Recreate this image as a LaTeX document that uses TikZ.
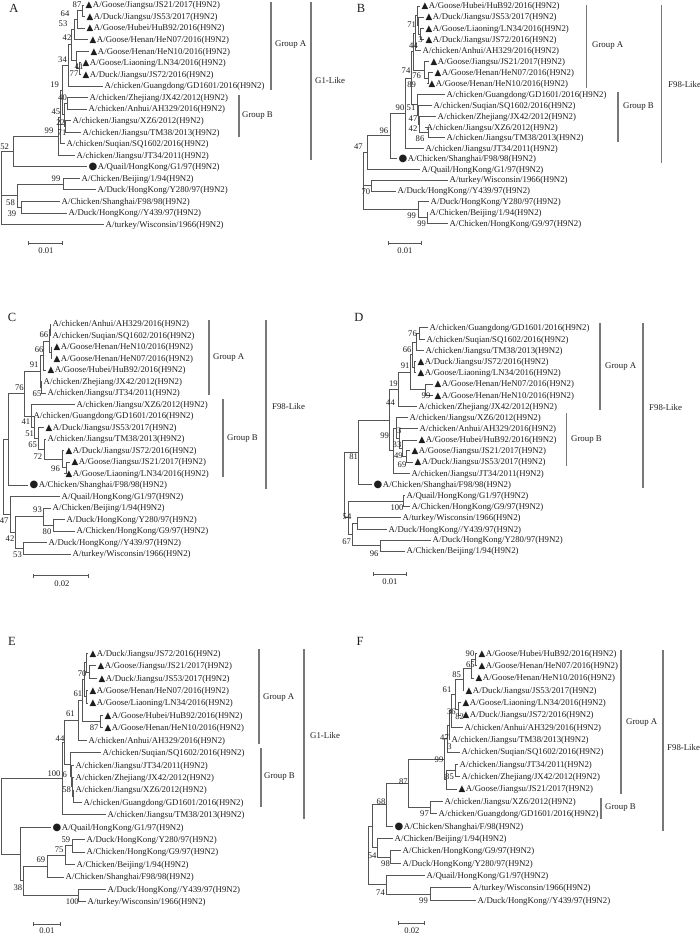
\documentclass[tikz,border=0pt]{standalone}
\usepackage{fontspec}
\setmainfont{Liberation Serif}
\newfontfamily\symf{DejaVu Sans}
\usetikzlibrary{arrows.meta}
\definecolor{treegray}{RGB}{85,85,85}
\definecolor{bargray}{RGB}{120,120,120}
\definecolor{inkgray}{RGB}{30,30,30}
\tikzset{
  branch/.style={draw=treegray, line width=0.7pt},
  leaf/.style={anchor=west, inner xsep=1.5pt, inner ysep=0pt, text height=6.4pt, text depth=0.6pt, font=\fontsize{8.8}{9}\selectfont, text=inkgray},
  boot/.style={inner sep=0pt, font=\fontsize{8.6}{9}\selectfont, text=inkgray},
  grp/.style={anchor=west, inner sep=0pt, font=\fontsize{8.8}{9}\selectfont, text=inkgray},
  cladebar/.style={draw=bargray, line width=1.2pt},
  panel/.style={inner sep=0pt, font=\fontsize{12.5}{13}\selectfont, text=inkgray},
  scalebar/.style={draw=treegray, line width=0.7pt, {Bar[width=4pt]}-{Bar[width=4pt]}},
}
\newcommand{\tri}{{\symf ▲}\hspace{0.5pt}}
\newcommand{\cir}{{\symf\fontsize{10}{10}\selectfont ●}\hspace{0.5pt}}
\newcommand{\br}[2]{\draw[branch] (#1) |- (#2);}

\begin{document}
\begin{tikzpicture}[x=1pt, y=-1pt]
\useasboundingbox (0,0) rectangle (700,934);

% ---------------- panel A ----------------
\node[panel] (pA) at (14,8) {A};
\node[leaf] (aJS21) at (84,5.0) {\tri A/Goose/Jiangsu/JS21/2017(H9N2)};
\node[leaf] (aJS53) at (85,16.6) {\tri A/Duck/Jiangsu/JS53/2017(H9N2)};
\node[leaf] (aHuB92) at (85,28.1) {\tri A/Goose/Hubei/HuB92/2016(H9N2)};
\node[leaf] (aHeN07) at (88,39.7) {\tri A/Goose/Henan/HeN07/2016(H9N2)};
\node[leaf] (aHeN10) at (89,51.2) {\tri A/Goose/Henan/HeN10/2016(H9N2)};
\node[leaf] (aLN34) at (81,62.8) {\tri A/Goose/Liaoning/LN34/2016(H9N2)};
\node[leaf] (aJS72) at (81,74.3) {\tri A/Duck/Jiangsu/JS72/2016(H9N2)};
\node[leaf] (aGD1601) at (103,85.9) {A/chicken/Guangdong/GD1601/2016(H9N2)};
\node[leaf] (aJX42) at (88,97.4) {A/chicken/Zhejiang/JX42/2012(H9N2)};
\node[leaf] (aAH329) at (87,109.0) {A/chicken/Anhui/AH329/2016(H9N2)};
\node[leaf] (aXZ6) at (71,120.5) {A/chicken/Jiangsu/XZ6/2012(H9N2)};
\node[leaf] (aTM38) at (81,132.1) {A/chicken/Jiangsu/TM38/2013(H9N2)};
\node[leaf] (aSQ1602) at (65,143.6) {A/chicken/Suqian/SQ1602/2016(H9N2)};
\node[leaf] (aJT34) at (75,155.2) {A/chicken/Jiangsu/JT34/2011(H9N2)};
\node[leaf] (aG1) at (87,166.7) {\cir A/Quail/HongKong/G1/97(H9N2)};
\node[leaf] (aBJ) at (80,178.3) {A/Chicken/Beijing/1/94(H9N2)};
\node[leaf] (aY280) at (96,189.8) {A/Duck/HongKong/Y280/97(H9N2)};
\node[leaf] (aF98) at (60,201.4) {A/Chicken/Shanghai/F98/98(H9N2)};
\node[leaf] (aY439) at (67,212.9) {A/Duck/HongKong//Y439/97(H9N2)};
\node[leaf] (aTK) at (104,224.5) {A/turkey/Wisconsin/1966(H9N2)};
% inner nodes
\coordinate (a87) at (82,10.8);
\coordinate (a64) at (77,19.5);
\coordinate (a53) at (74,29.6);
\coordinate (a41) at (79,68.6);
\coordinate (a77) at (76,59.9);
\coordinate (a42) at (71,44.8);
\coordinate (a34) at (68,65.4);
\coordinate (a40) at (67,103.2);
\coordinate (a71) at (65,126.3);
\coordinate (a45) at (64,114.8);
\coordinate (a19) at (62,90.1);
\coordinate (aX) at (60,116.9);
\coordinate (a99) at (58,136.1);
\coordinate (a52) at (13,151.4);
\coordinate (a99b) at (63,184.1);
\coordinate (a39) at (21,207.2);
\coordinate (a58) at (17,195.7);
\coordinate (aR) at (1,188);
\br{a87}{aJS21.west} \br{a87}{aJS53.west}
\br{a64}{a87} \br{a64}{aHuB92.west}
\br{a53}{a64} \br{a53}{aHeN07.west}
\br{a41}{aLN34.west} \br{a41}{aJS72.west}
\br{a77}{aHeN10.west} \br{a77}{a41}
\br{a42}{a53} \br{a42}{a77}
\br{a34}{a42} \br{a34}{aGD1601.west}
\br{a40}{aJX42.west} \br{a40}{aAH329.west}
\br{a71}{aXZ6.west} \br{a71}{aTM38.west}
\br{a45}{a40} \br{a45}{a71}
\br{a19}{a34} \br{a19}{a45}
\br{aX}{a19} \br{aX}{aSQ1602.west}
\br{a99}{aX} \br{a99}{aJT34.west}
\br{a52}{a99} \br{a52}{aG1.west}
\br{a99b}{aBJ.west} \br{a99b}{aY280.west}
\br{a39}{aF98.west} \br{a39}{aY439.west}
\br{a58}{a99b} \br{a58}{a39}
\br{aR}{a52} \br{aR}{a58} \br{aR}{aTK.west}
% bootstrap values
\node[boot] (aB1) at (77,5) {87};
\node[boot] (aB2) at (65,14) {64};
\node[boot] (aB3) at (63,24) {53};
\node[boot] (aB4) at (67,37.7) {42};
\node[boot] (aB5) at (62.5,59.3) {34};
\node[boot] (aB6) at (79,66.7) {41};
\node[boot] (aB7) at (74,74) {77};
\node[boot] (aB8) at (54.7,84.3) {19};
\node[boot] (aB9) at (62.5,97.3) {40};
\node[boot] (aB10) at (55.8,111.7) {45};
\node[boot] (aB11) at (60.7,122.7) {22};
\node[boot] (aB12) at (49,131) {99};
\node[boot] (aB13) at (62,132.7) {71};
\node[boot] (aB14) at (4.7,146.7) {52};
\node[boot] (aB15) at (56,179) {99};
\node[boot] (aB16) at (10.5,202.3) {58};
\node[boot] (aB17) at (12,214) {39};
% groups
\draw[cladebar] (271,2) -- (271,90);
\node[grp] (aGA) at (275,45) {Group A};
\draw[cladebar] (239,95) -- (239,137);
\node[grp] (aGB) at (242,116) {Group B};
\draw[cladebar] (311,2) -- (311,160);
\node[grp] (aGL) at (315,80) {G1-Like};
\draw[scalebar] (28,243) -- (63,243);
\node[boot] (aS) at (46,251) {0.01};

% ---------------- panel B ----------------
\node[panel] (pB) at (361,8) {B};
\node[leaf] (bHuB92) at (420,6.0) {\tri A/Goose/Hubei/HuB92/2016(H9N2)};
\node[leaf] (bJS53) at (424,17.1) {\tri A/Duck/Jiangsu/JS53/2017(H9N2)};
\node[leaf] (bLN34) at (424,28.3) {\tri A/Goose/Liaoning/LN34/2016(H9N2)};
\node[leaf] (bJS72) at (424,39.5) {\tri A/Duck/Jiangsu/JS72/2016(H9N2)};
\node[leaf] (bAH329) at (421,50.6) {A/chicken/Anhui/AH329/2016(H9N2)};
\node[leaf] (bJS21) at (429,61.7) {\tri A/Goose/Jiangsu/JS21/2017(H9N2)};
\node[leaf] (bHeN07) at (433,72.7) {\tri A/Goose/Henan/HeN07/2016(H9N2)};
\node[leaf] (bHeN10) at (427,83.5) {\tri A/Goose/Henan/HeN10/2016(H9N2)};
\node[leaf] (bGD1601) at (445,94.4) {A/chicken/Guangdong/GD1601/2016(H9N2)};
\node[leaf] (bSQ1602) at (432,105.5) {A/chicken/Suqian/SQ1602/2016(H9N2)};
\node[leaf] (bJX42) at (436,116.4) {A/chicken/Zhejiang/JX42/2012(H9N2)};
\node[leaf] (bXZ6) at (425,127.2) {A/chicken/Jiangsu/XZ6/2012(H9N2)};
\node[leaf] (bTM38) at (445,137.6) {A/chicken/Jiangsu/TM38/2013(H9N2)};
\node[leaf] (bJT34) at (424,148.3) {A/chicken/Jiangsu/JT34/2011(H9N2)};
\node[leaf] (bF98) at (397,158.3) {\cir A/Chicken/Shanghai/F98/98(H9N2)};
\node[leaf] (bG1) at (420,169.3) {A/Quail/HongKong/G1/97(H9N2)};
\node[leaf] (bTK) at (448,180.0) {A/turkey/Wisconsin/1966(H9N2)};
\node[leaf] (bY439) at (396,191.0) {A/Duck/HongKong//Y439/97(H9N2)};
\node[leaf] (bY280) at (429,201.7) {A/Duck/HongKong/Y280/97(H9N2)};
\node[leaf] (bBJ) at (428,212.3) {A/Chicken/Beijing/1/94(H9N2)};
\node[leaf] (bG9) at (448,223.3) {A/Chicken/HongKong/G9/97(H9N2)};
% inner nodes
\coordinate (b3) at (420,33.9);
\coordinate (b71) at (418,25.5);
\coordinate (bH) at (417,15.8);
\coordinate (b44) at (415,33.2);
\coordinate (b89) at (428,78.1);
\coordinate (b76) at (424,69.9);
\coordinate (b74) at (413,51.6);
\coordinate (b86) at (428,132.4);
\coordinate (b42) at (419,124.4);
\coordinate (b47) at (418,115);
\coordinate (b51) at (417,104.7);
\coordinate (bAB) at (411,78.2);
\coordinate (b90) at (405,113.3);
\coordinate (b96) at (390,135.8);
\coordinate (b47r) at (367,152.6);
\coordinate (b70) at (371,185.5);
\coordinate (b99b) at (427,217.8);
\coordinate (b99a) at (418,209.8);
\coordinate (bR) at (363,180);
\br{b3}{bLN34.west} \br{b3}{bJS72.west}
\br{b71}{bJS53.west} \br{b71}{b3}
\br{bH}{bHuB92.west} \br{bH}{b71}
\br{b44}{bH} \br{b44}{bAH329.west}
\br{b89}{bHeN07.west} \br{b89}{bHeN10.west}
\br{b76}{bJS21.west} \br{b76}{b89}
\br{b74}{b44} \br{b74}{b76}
\br{b86}{bXZ6.west} \br{b86}{bTM38.west}
\br{b42}{bJX42.west} \br{b42}{b86}
\br{b47}{bSQ1602.west} \br{b47}{b42}
\br{b51}{bGD1601.west} \br{b51}{b47}
\br{bAB}{b74} \br{bAB}{b51}
\br{b90}{bAB} \br{b90}{bJT34.west}
\br{b96}{b90} \br{b96}{bF98.west}
\br{b47r}{b96} \br{b47r}{bG1.west}
\br{b70}{bTK.west} \br{b70}{bY439.west}
\br{b99b}{bBJ.west} \br{b99b}{bG9.west}
\br{b99a}{bY280.west} \br{b99a}{b99b}
\br{bR}{b47r} \br{bR}{b70} \br{bR}{b99a}
% bootstrap values
\node[boot] (bB1) at (411.7,25) {71};
\node[boot] (bB2) at (413.5,45.5) {44};
\node[boot] (bB3) at (420.5,39.5) {3};
\node[boot] (bB4) at (406,70.7) {74};
\node[boot] (bB5) at (416.7,76) {76};
\node[boot] (bB6) at (411.7,85) {89};
\node[boot] (bB7) at (400,107.3) {90};
\node[boot] (bB8) at (411,107.3) {51};
\node[boot] (bB9) at (413,118.3) {47};
\node[boot] (bB10) at (413,128.3) {42};
\node[boot] (bB11) at (420,138.3) {86};
\node[boot] (bB12) at (383.8,130.7) {96};
\node[boot] (bB13) at (358.3,146.7) {47};
\node[boot] (bB14) at (365.8,191.7) {70};
\node[boot] (bB15) at (411.7,215.7) {99};
\node[boot] (bB16) at (421.7,224) {99};
% groups
\draw[cladebar] (586.7,5) -- (586.7,88);
\node[grp] (bGA) at (592,46) {Group A};
\draw[cladebar] (618,92) -- (618,142);
\node[grp] (bGB) at (623,107) {Group B};
\draw[cladebar] (661.7,5) -- (661.7,163);
\node[grp] (bGL) at (668,84) {F98-Like};
\draw[scalebar] (388,243.3) -- (422,243.3);
\node[boot] (bS) at (405,251) {0.01};

% ---------------- panel C ----------------
\node[panel] (pC) at (12,317) {C};
\node[leaf] (cAH329) at (51,324) {A/chicken/Anhui/AH329/2016(H9N2)};
\node[leaf] (cSQ1602) at (51,335.5) {A/chicken/Suqian/SQ1602/2016(H9N2)};
\node[leaf] (cHeN10) at (52,347) {\tri A/Goose/Henan/HeN10/2016(H9N2)};
\node[leaf] (cHeN07) at (52,358.5) {\tri A/Goose/Henan/HeN07/2016(H9N2)};
\node[leaf] (cHuB92) at (46,370) {\tri A/Goose/Hubei/HuB92/2016(H9N2)};
\node[leaf] (cJX42) at (42,381.5) {A/chicken/Zhejiang/JX42/2012(H9N2)};
\node[leaf] (cJT34) at (46,393) {A/chicken/Jiangsu/JT34/2011(H9N2)};
\node[leaf] (cXZ6) at (75,404.5) {A/chicken/Jiangsu/XZ6/2012(H9N2)};
\node[leaf] (cGD1601) at (32,416) {A/chicken/Guangdong/GD1601/2016(H9N2)};
\node[leaf] (cJS53) at (44,427.5) {\tri A/Duck/Jiangsu/JS53/2017(H9N2)};
\node[leaf] (cTM38) at (46,439) {A/chicken/Jiangsu/TM38/2013(H9N2)};
\node[leaf] (cJS72) at (64,450.5) {\tri A/Duck/Jiangsu/JS72/2016(H9N2)};
\node[leaf] (cJS21) at (70,462) {\tri A/Goose/Jiangsu/JS21/2017(H9N2)};
\node[leaf] (cLN34) at (64,473.5) {\tri A/Goose/Liaoning/LN34/2016(H9N2)};
\node[leaf] (cF98) at (28,485) {\cir A/Chicken/Shanghai/F98/98(H9N2)};
\node[leaf] (cG1) at (60,496.5) {A/Quail/HongKong/G1/97(H9N2)};
\node[leaf] (cBJ) at (51,508) {A/Chicken/Beijing/1/94(H9N2)};
\node[leaf] (cY280) at (65,519.5) {A/Duck/HongKong/Y280/97(H9N2)};
\node[leaf] (cG9) at (75,531) {A/Chicken/HongKong/G9/97(H9N2)};
\node[leaf] (cY439) at (47,542.5) {A/Duck/HongKong//Y439/97(H9N2)};
\node[leaf] (cTK) at (71,554) {A/turkey/Wisconsin/1966(H9N2)};
% inner nodes
\coordinate (c66a) at (50,329.8);
\coordinate (cHe) at (51,352.8);
\coordinate (c66) at (49,341.3);
\coordinate (c91) at (43,355.7);
\coordinate (c65a) at (41,387.3);
\coordinate (cA) at (40,371.5);
\coordinate (c96) at (66,467.8);
\coordinate (cJS) at (62,459.1);
\coordinate (c72) at (44,449.1);
\coordinate (c65) at (38,438.3);
\coordinate (c51) at (34,427.2);
\coordinate (c41) at (31,415.9);
\coordinate (c76) at (24,393.7);
\coordinate (cF) at (8,439.4);
\coordinate (c80) at (53,525.3);
\coordinate (c93) at (43,516.6);
\coordinate (c53) at (23,548.3);
\coordinate (c42) at (15,532.5);
\coordinate (c47) at (10,514.5);
\coordinate (cR) at (3,477);
\br{c66a}{cAH329.west} \br{c66a}{cSQ1602.west}
\br{cHe}{cHeN10.west} \br{cHe}{cHeN07.west}
\br{c66}{c66a} \br{c66}{cHe}
\br{c91}{c66} \br{c91}{cHuB92.west}
\br{c65a}{cJX42.west} \br{c65a}{cJT34.west}
\br{cA}{c91} \br{cA}{c65a}
\br{c96}{cJS21.west} \br{c96}{cLN34.west}
\br{cJS}{cJS72.west} \br{cJS}{c96}
\br{c72}{cTM38.west} \br{c72}{cJS}
\br{c65}{cJS53.west} \br{c65}{c72}
\br{c51}{cGD1601.west} \br{c51}{c65}
\br{c41}{cXZ6.west} \br{c41}{c51}
\br{c76}{cA} \br{c76}{c41}
\br{cF}{c76} \br{cF}{cF98.west}
\br{c80}{cY280.west} \br{c80}{cG9.west}
\br{c93}{cBJ.west} \br{c93}{c80}
\br{c53}{cY439.west} \br{c53}{cTK.west}
\br{c42}{c93} \br{c42}{c53}
\br{c47}{cG1.west} \br{c47}{c42}
\br{cR}{cF} \br{cR}{c47}
% bootstrap values
\node[boot] (cB1) at (43.8,335) {66};
\node[boot] (cB2) at (39.2,349.3) {66};
\node[boot] (cB3) at (34.2,365) {91};
\node[boot] (cB4) at (19.5,387.3) {76};
\node[boot] (cB5) at (37,393.3) {65};
\node[boot] (cB6) at (25.8,421.7) {41};
\node[boot] (cB7) at (29.7,433.3) {51};
\node[boot] (cB8) at (32.7,445) {65};
\node[boot] (cB9) at (37.8,456.7) {72};
\node[boot] (cB10) at (55.5,468.3) {96};
\node[boot] (cB11) at (37.5,509.3) {93};
\node[boot] (cB12) at (47,531.7) {80};
\node[boot] (cB13) at (4.2,521) {47};
\node[boot] (cB14) at (10,539) {42};
\node[boot] (cB15) at (17.5,555) {53};
% groups
\draw[cladebar] (209,320) -- (209,395);
\node[grp] (cGA) at (213,358) {Group A};
\draw[cladebar] (223,399) -- (223,477);
\node[grp] (cGB) at (227,439) {Group B};
\draw[cladebar] (266,320) -- (266,489);
\node[grp] (cGL) at (272,406) {F98-Like};
\draw[scalebar] (33,575.7) -- (89,575.7);
\node[boot] (cS) at (62,583.5) {0.02};

% ---------------- panel D ----------------
\node[panel] (pD) at (359,317) {D};
\node[leaf] (dGD1601) at (428,327.3) {A/chicken/Guangdong/GD1601/2016(H9N2)};
\node[leaf] (dSQ1602) at (425,339.3) {A/chicken/Suqian/SQ1602/2016(H9N2)};
\node[leaf] (dTM38) at (424,350.7) {A/chicken/Jiangsu/TM38/2013(H9N2)};
\node[leaf] (dJS72) at (416,361.7) {\tri A/Duck/Jiangsu/JS72/2016(H9N2)};
\node[leaf] (dLN34) at (416,372.7) {\tri A/Goose/Liaoning/LN34/2016(H9N2)};
\node[leaf] (dHeN07) at (433,384) {\tri A/Goose/Henan/HeN07/2016(H9N2)};
\node[leaf] (dHeN10) at (433,395.3) {\tri A/Goose/Henan/HeN10/2016(H9N2)};
\node[leaf] (dJX42) at (417,406.7) {A/chicken/Zhejiang/JX42/2012(H9N2)};
\node[leaf] (dXZ6) at (408,417.7) {A/chicken/Jiangsu/XZ6/2012(H9N2)};
\node[leaf] (dAH329) at (418,428.7) {A/chicken/Anhui/AH329/2016(H9N2)};
\node[leaf] (dHuB92) at (417,440) {\tri A/Goose/Hubei/HuB92/2016(H9N2)};
\node[leaf] (dJS21) at (410,450.7) {\tri A/Goose/Jiangsu/JS21/2017(H9N2)};
\node[leaf] (dJS53) at (413,462) {\tri A/Duck/Jiangsu/JS53/2017(H9N2)};
\node[leaf] (dJT34) at (410,473.3) {A/chicken/Jiangsu/JT34/2011(H9N2)};
\node[leaf] (dF98) at (372,484.3) {\cir A/Chicken/Shanghai/F98/98(H9N2)};
\node[leaf] (dG1) at (405,495.3) {A/Quail/HongKong/G1/97(H9N2)};
\node[leaf] (dG9) at (410,506.7) {A/Chicken/HongKong/G9/97(H9N2)};
\node[leaf] (dTK) at (401,517.7) {A/turkey/Wisconsin/1966(H9N2)};
\node[leaf] (dY439) at (387,529.3) {A/Duck/HongKong//Y439/97(H9N2)};
\node[leaf] (dY280) at (431,540) {A/Duck/HongKong/Y280/97(H9N2)};
\node[leaf] (dBJ) at (405,551) {A/Chicken/Beijing/1/94(H9N2)};
% inner nodes
\coordinate (d76) at (419,333.3);
\coordinate (d66) at (416,342);
\coordinate (dJS) at (414,367.2);
\coordinate (d91) at (412,354.6);
\coordinate (d99) at (425,389.7);
\coordinate (d19) at (410,372.2);
\coordinate (d44) at (398,389.5);
\coordinate (d69) at (406,456.4);
\coordinate (d49) at (402,448.2);
\coordinate (d33) at (399,438.5);
\coordinate (d3) at (396,428.1);
\coordinate (dB) at (393,450.7);
\coordinate (d99b) at (389,420.1);
\coordinate (d81) at (358,452.2);
\coordinate (d100) at (403,501);
\coordinate (dT) at (357,523.5);
\coordinate (d96) at (380,545.5);
\coordinate (d54) at (352,534.5);
\coordinate (d67) at (348,517.8);
\coordinate (dR) at (344,485);
\br{d76}{dGD1601.west} \br{d76}{dSQ1602.west}
\br{d66}{d76} \br{d66}{dTM38.west}
\br{dJS}{dJS72.west} \br{dJS}{dLN34.west}
\br{d91}{d66} \br{d91}{dJS}
\br{d99}{dHeN07.west} \br{d99}{dHeN10.west}
\br{d19}{d91} \br{d19}{d99}
\br{d44}{d19} \br{d44}{dJX42.west}
\br{d69}{dJS21.west} \br{d69}{dJS53.west}
\br{d49}{dHuB92.west} \br{d49}{d69}
\br{d33}{dAH329.west} \br{d33}{d49}
\br{d3}{dXZ6.west} \br{d3}{d33}
\br{dB}{d3} \br{dB}{dJT34.west}
\br{d99b}{d44} \br{d99b}{dB}
\br{d81}{d99b} \br{d81}{dF98.west}
\br{d100}{dG1.west} \br{d100}{dG9.west}
\br{dT}{dTK.west} \br{dT}{dY439.west}
\br{d96}{dY280.west} \br{d96}{dBJ.west}
\br{d54}{dT} \br{d54}{d96}
\br{d67}{d100} \br{d67}{d54}
\br{dR}{d81} \br{dR}{d67}
% bootstrap values
\node[boot] (dB1) at (412.5,334) {76};
\node[boot] (dB2) at (407.2,349.3) {66};
\node[boot] (dB3) at (405.2,366) {91};
\node[boot] (dB4) at (393.3,383.3) {19};
\node[boot] (dB5) at (426,396) {99};
\node[boot] (dB6) at (390.5,402.7) {44};
\node[boot] (dB7) at (399.2,430.7) {3};
\node[boot] (dB8) at (384.7,436) {99};
\node[boot] (dB9) at (397,445) {33};
\node[boot] (dB10) at (398.3,456) {49};
\node[boot] (dB11) at (402,465) {69};
\node[boot] (dB12) at (353.7,456.7) {81};
\node[boot] (dB13) at (397,507.7) {100};
\node[boot] (dB14) at (347,516.7) {54};
\node[boot] (dB15) at (346.7,541.7) {67};
\node[boot] (dB16) at (374.2,553.3) {96};
% groups
\draw[cladebar] (600,323) -- (600,410);
\node[grp] (dGA) at (605,367) {Group A};
\draw[cladebar] (566.7,413) -- (566.7,466);
\node[grp] (dGB) at (571,440) {Group B};
\draw[cladebar] (643,323) -- (643,488);
\node[grp] (dGL) at (649,407) {F98-Like};
\draw[scalebar] (373,574) -- (407,574);
\node[boot] (dS) at (390,582) {0.01};

% ---------------- panel E ----------------
\node[panel] (pE) at (12,641) {E};
\node[leaf] (eJS72) at (88,653.3) {\tri A/Duck/Jiangsu/JS72/2016(H9N2)};
\node[leaf] (eJS21) at (96,665.7) {\tri A/Goose/Jiangsu/JS21/2017(H9N2)};
\node[leaf] (eJS53) at (97,678.1) {\tri A/Duck/Jiangsu/JS53/2017(H9N2)};
\node[leaf] (eHeN07) at (88,690.6) {\tri A/Goose/Henan/HeN07/2016(H9N2)};
\node[leaf] (eLN34) at (88,703.0) {\tri A/Goose/Liaoning/LN34/2016(H9N2)};
\node[leaf] (eHuB92) at (103,715.4) {\tri A/Goose/Hubei/HuB92/2016(H9N2)};
\node[leaf] (eHeN10) at (103,727.8) {\tri A/Goose/Henan/HeN10/2016(H9N2)};
\node[leaf] (eAH329) at (87,740.2) {A/chicken/Anhui/AH329/2016(H9N2)};
\node[leaf] (eSQ1602) at (101,752.7) {A/chicken/Suqian/SQ1602/2016(H9N2)};
\node[leaf] (eJT34) at (74,765.1) {A/chicken/Jiangsu/JT34/2011(H9N2)};
\node[leaf] (eJX42) at (74,777.5) {A/chicken/Zhejiang/JX42/2012(H9N2)};
\node[leaf] (eXZ6) at (74,789.9) {A/chicken/Jiangsu/XZ6/2012(H9N2)};
\node[leaf] (eGD1601) at (82,802.3) {A/chicken/Guangdong/GD1601/2016(H9N2)};
\node[leaf] (eTM38) at (106,814.8) {A/chicken/Jiangsu/TM38/2013(H9N2)};
\node[leaf] (eG1) at (51,827.2) {\cir A/Quail/HongKong/G1/97(H9N2)};
\node[leaf] (eY280) at (85,839.6) {A/Duck/HongKong/Y280/97(H9N2)};
\node[leaf] (eG9) at (85,852.0) {A/Chicken/HongKong/G9/97(H9N2)};
\node[leaf] (eBJ) at (75,864.4) {A/Chicken/Beijing/1/94(H9N2)};
\node[leaf] (eF98) at (64,876.9) {A/Chicken/Shanghai/F98/98(H9N2)};
\node[leaf] (eY439) at (106,889.3) {A/Duck/HongKong//Y439/97(H9N2)};
\node[leaf] (eTK) at (86,901.7) {A/turkey/Wisconsin/1966(H9N2)};
% inner nodes
\coordinate (eJ) at (89,671.9);
\coordinate (e70) at (86,662.6);
\coordinate (eHL) at (86,696.8);
\coordinate (e61a) at (84,679.7);
\coordinate (e87) at (100,721.6);
\coordinate (e61b) at (82,700.7);
\coordinate (e44) at (78,720.5);
\coordinate (e58) at (73,796.1);
\coordinate (e6) at (72,786.8);
\coordinate (eJT) at (71,776);
\coordinate (eB) at (70,764.3);
\coordinate (e100a) at (64,742.4);
\coordinate (e100) at (62,778.6);
\coordinate (e59) at (72,845.8);
\coordinate (e75) at (65,855.1);
\coordinate (e69) at (47,866);
\coordinate (e100b) at (78,895.5);
\coordinate (e38) at (23,880.8);
\coordinate (eOut) at (20,854);
\coordinate (eR) at (1,816.3);
\br{eJ}{eJS21.west} \br{eJ}{eJS53.west}
\br{e70}{eJS72.west} \br{e70}{eJ}
\br{eHL}{eHeN07.west} \br{eHL}{eLN34.west}
\br{e61a}{e70} \br{e61a}{eHL}
\br{e87}{eHuB92.west} \br{e87}{eHeN10.west}
\br{e61b}{e61a} \br{e61b}{e87}
\br{e44}{e61b} \br{e44}{eAH329.west}
\br{e58}{eXZ6.west} \br{e58}{eGD1601.west}
\br{e6}{eJX42.west} \br{e6}{e58}
\br{eJT}{eJT34.west} \br{eJT}{e6}
\br{eB}{eSQ1602.west} \br{eB}{eJT}
\br{e100a}{e44} \br{e100a}{eB}
\br{e100}{e100a} \br{e100}{eTM38.west}
\br{e59}{eY280.west} \br{e59}{eG9.west}
\br{e75}{e59} \br{e75}{eBJ.west}
\br{e69}{e75} \br{e69}{eF98.west}
\br{e100b}{eY439.west} \br{e100b}{eTK.west}
\br{e38}{e69} \br{e38}{e100b}
\br{eOut}{eG1.west} \br{eOut}{e38}
\br{eR}{e100} \br{eR}{eOut}
% bootstrap values
\node[boot] (eB1) at (82.2,673.3) {70};
\node[boot] (eB2) at (77.8,694) {61};
\node[boot] (eB3) at (70.3,714) {61};
\node[boot] (eB4) at (94.2,727.7) {87};
\node[boot] (eB5) at (60,739) {44};
\node[boot] (eB6) at (54,774) {100};
\node[boot] (eB7) at (64.7,775) {6};
\node[boot] (eB8) at (66.7,790) {58};
\node[boot] (eB9) at (65.8,840) {59};
\node[boot] (eB10) at (59.2,849.3) {75};
\node[boot] (eB11) at (40.8,860) {69};
\node[boot] (eB12) at (17.8,887.3) {38};
\node[boot] (eB13) at (72.2,901.7) {100};
% groups
\draw[cladebar] (259,649) -- (259,744);
\node[grp] (eGA) at (263,698) {Group A};
\draw[cladebar] (261,748) -- (261,807);
\node[grp] (eGB) at (264,777) {Group B};
\draw[cladebar] (304,649) -- (304,819);
\node[grp] (eGL) at (310,735) {G1-Like};
\draw[scalebar] (33,924) -- (61,924);
\node[boot] (eS) at (47,930.5) {0.01};

% ---------------- panel F ----------------
\node[panel] (pF) at (360,641) {F};
\node[leaf] (fHuB92) at (477,653.3) {\tri A/Goose/Hubei/HuB92/2016(H9N2)};
\node[leaf] (fHeN07) at (477,665.6) {\tri A/Goose/Henan/HeN07/2016(H9N2)};
\node[leaf] (fHeN10) at (474,678.0) {\tri A/Goose/Henan/HeN10/2016(H9N2)};
\node[leaf] (fJS53) at (464,690.3) {\tri A/Duck/Jiangsu/JS53/2017(H9N2)};
\node[leaf] (fLN34) at (461,702.7) {\tri A/Goose/Liaoning/LN34/2016(H9N2)};
\node[leaf] (fJS72) at (461,715.0) {\tri A/Duck/Jiangsu/JS72/2016(H9N2)};
\node[leaf] (fAH329) at (463,727.3) {A/chicken/Anhui/AH329/2016(H9N2)};
\node[leaf] (fTM38) at (450,739.7) {A/chicken/Jiangsu/TM38/2013(H9N2)};
\node[leaf] (fSQ1602) at (460,752.0) {A/chicken/Suqian/SQ1602/2016(H9N2)};
\node[leaf] (fJT34) at (458,764.4) {A/chicken/Jiangsu/JT34/2011(H9N2)};
\node[leaf] (fJX42) at (460,776.7) {A/chicken/Zhejiang/JX42/2012(H9N2)};
\node[leaf] (fJS21) at (457,789.0) {\tri A/Goose/Jiangsu/JS21/2017(H9N2)};
\node[leaf] (fXZ6) at (443,801.4) {A/chicken/Jiangsu/XZ6/2012(H9N2)};
\node[leaf] (fGD1601) at (437,813.7) {A/chicken/Guangdong/GD1601/2016(H9N2)};
\node[leaf] (fF98) at (393,826.1) {\cir A/Chicken/Shanghai/F/98(H9N2)};
\node[leaf] (fBJ) at (393,838.4) {A/Chicken/Beijing/1/94(H9N2)};
\node[leaf] (fG9) at (401,850.7) {A/Chicken/HongKong/G9/97(H9N2)};
\node[leaf] (fY280) at (401,863.1) {A/Duck/HongKong/Y280/97(H9N2)};
\node[leaf] (fG1) at (425,875.4) {A/Quail/HongKong/G1/97(H9N2)};
\node[leaf] (fTK) at (471,887.8) {A/turkey/Wisconsin/1966(H9N2)};
\node[leaf] (fY439) at (476,900.1) {A/Duck/HongKong//Y439/97(H9N2)};
% inner nodes
\coordinate (f90) at (475,659.5);
\coordinate (f65) at (471,668.8);
\coordinate (f85) at (463,679.5);
\coordinate (f82) at (458,708.9);
\coordinate (f61) at (455,694.2);
\coordinate (f36) at (451,710.8);
\coordinate (f47) at (449,725.2);
\coordinate (f3) at (447,738.6);
\coordinate (f85b) at (455,770.6);
\coordinate (fJ) at (446,779.8);
\coordinate (f99) at (444,759.2);
\coordinate (f97) at (430,807.6);
\coordinate (f87) at (408,783.4);
\coordinate (f68) at (386,804.8);
\coordinate (f98) at (390,856.9);
\coordinate (f54) at (377,847.7);
\coordinate (f99b) at (430,894);
\coordinate (f74) at (386,884.7);
\coordinate (fA) at (372,826.3);
\coordinate (fR) at (368,855.5);
\br{f90}{fHuB92.west} \br{f90}{fHeN07.west}
\br{f65}{f90} \br{f65}{fHeN10.west}
\br{f85}{f65} \br{f85}{fJS53.west}
\br{f82}{fLN34.west} \br{f82}{fJS72.west}
\br{f61}{f85} \br{f61}{f82}
\br{f36}{f61} \br{f36}{fAH329.west}
\br{f47}{f36} \br{f47}{fTM38.west}
\br{f3}{f47} \br{f3}{fSQ1602.west}
\br{f85b}{fJT34.west} \br{f85b}{fJX42.west}
\br{fJ}{f85b} \br{fJ}{fJS21.west}
\br{f99}{f3} \br{f99}{fJ}
\br{f97}{fXZ6.west} \br{f97}{fGD1601.west}
\br{f87}{f99} \br{f87}{f97}
\br{f68}{f87} \br{f68}{fF98.west}
\br{f98}{fG9.west} \br{f98}{fY280.west}
\br{f54}{fBJ.west} \br{f54}{f98}
\br{f99b}{fTK.west} \br{f99b}{fY439.west}
\br{f74}{fG1.west} \br{f74}{f99b}
\br{fA}{f68} \br{fA}{f54}
\br{fR}{fA} \br{fR}{f74}
% bootstrap values
\node[boot] (fB1) at (470,653.3) {90};
\node[boot] (fB2) at (470.3,665) {65};
\node[boot] (fB3) at (456.7,675) {85};
\node[boot] (fB4) at (447,690) {61};
\node[boot] (fB5) at (451.3,711.7) {36};
\node[boot] (fB6) at (459.7,716.7) {82};
\node[boot] (fB7) at (444.5,737.5) {47};
\node[boot] (fB8) at (449.5,746.5) {3};
\node[boot] (fB9) at (439,760) {99};
\node[boot] (fB10) at (449.5,776.7) {85};
\node[boot] (fB11) at (403.3,781.7) {87};
\node[boot] (fB12) at (381,801.7) {68};
\node[boot] (fB13) at (424.5,813.3) {97};
\node[boot] (fB14) at (372.2,856) {54};
\node[boot] (fB15) at (385.5,864) {98};
\node[boot] (fB16) at (380.5,892.7) {74};
\node[boot] (fB17) at (423.5,900.7) {99};
% groups
\draw[cladebar] (621,650) -- (621,794);
\node[grp] (fGA) at (626,723) {Group A};
\draw[cladebar] (601,798) -- (601,819);
\node[grp] (fGB) at (605,808) {Group B};
\draw[cladebar] (663,650) -- (663,831);
\node[grp] (fGL) at (667,747) {F98-Like};
\draw[scalebar] (398,923.3) -- (425,923.3);
\node[boot] (fS) at (412,930.5) {0.02};
\end{tikzpicture}
\end{document}
